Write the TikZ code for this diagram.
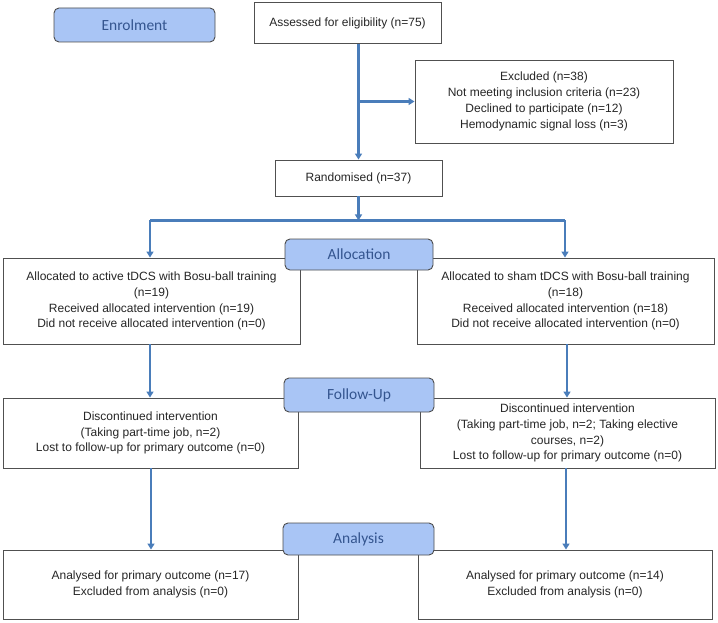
\documentclass[tikz,border=0pt]{standalone}
\usepackage{fontspec}
\setmainfont{Liberation Sans}
\newfontfamily\labelfont{Carlito}
\usetikzlibrary{arrows.meta,calc}
\definecolor{arrowblue}{HTML}{4A7DBA}
\definecolor{labelfill}{HTML}{A9C5F5}
\definecolor{labeltext}{HTML}{34558F}
\definecolor{boxline}{HTML}{505050}
\begin{document}
\begin{tikzpicture}[x=1pt,y=-1pt,
  infobox/.style={draw=boxline,line width=0.9pt,fill=white,align=center,inner sep=0pt,
    font=\fontsize{12}{15.8}\selectfont,text=black!85},
  stagelabel/.style={draw=black!70,line width=0.9pt,fill=labelfill,rounded corners=5pt,
    inner sep=0pt,font=\labelfont\fontsize{15.5}{17}\selectfont,text=labeltext},
  arr/.style={draw=arrowblue,line width=2.5pt,-{Triangle[width=7pt,length=6pt]}},
  conn/.style={draw=arrowblue,line width=2.5pt}]
\useasboundingbox (0,0) rectangle (718,623);

\node[stagelabel,minimum width=161pt,minimum height=34pt] (enrol) at (134.5,25) {Enrolment};
\node[infobox,minimum width=187pt,minimum height=41pt] (ass) at (347.5,23) {Assessed for eligibility (n=75)};
\node[infobox,minimum width=258pt,minimum height=83pt] (exc) at (544,101.5)
  {Excluded (n=38)\\Not meeting inclusion criteria (n=23)\\Declined to participate (n=12)\\Hemodynamic signal loss (n=3)};
\node[infobox,minimum width=167pt,minimum height=36pt] (rand) at (358.5,178) {Randomised (n=37)};

\node[infobox,minimum width=297pt,minimum height=86pt] (allocL) at (151.5,301)
  {Allocated to active tDCS with Bosu-ball training\\(n=19)\\Received allocated intervention (n=19)\\Did not receive allocated intervention (n=0)};
\node[infobox,minimum width=297pt,minimum height=86pt] (allocR) at (565.5,301)
  {Allocated to sham tDCS with Bosu-ball training\\(n=18)\\Received allocated intervention (n=18)\\Did not receive allocated intervention (n=0)};

\node[infobox,minimum width=295pt,minimum height=70pt] (fupL) at (150.5,433)
  {Discontinued intervention\\(Taking part-time job, n=2)\\Lost to follow-up for primary outcome (n=0)};
\node[infobox,minimum width=295pt,minimum height=70pt] (fupR) at (567.5,433)
  {Discontinued intervention\\(Taking part-time job, n=2; Taking elective\\courses, n=2)\\Lost to follow-up for primary outcome (n=0)};

\node[infobox,minimum width=295pt,minimum height=69pt] (anL) at (150.5,584.5)
  {Analysed for primary outcome (n=17)\\Excluded from analysis (n=0)};
\node[infobox,minimum width=294pt,minimum height=69pt] (anR) at (565,584.5)
  {Analysed for primary outcome (n=14)\\Excluded from analysis (n=0)};

\node[stagelabel,minimum width=148pt,minimum height=31pt] (alloc) at (359,254.5) {Allocation};
\node[stagelabel,minimum width=150pt,minimum height=34pt] (fup) at (359,395) {Follow-Up};
\node[stagelabel,minimum width=151pt,minimum height=32pt] (anal) at (358.5,539) {Analysis};

% connectors
\draw[arr] (rand.north |- ass.south) -- (rand.north);
\coordinate (b1) at (rand.north |- exc.west);
\draw[arr] (b1) -- (exc.west);
\draw[arr] (rand.south) -- ++(0,24) coordinate (b2);
\coordinate (bl) at (150,0 |- b2);
\coordinate (br) at (565,0 |- b2);
\draw[conn] (bl) -- (br);
\draw[arr] (bl) -- (bl |- allocL.north);
\draw[arr] (br) -- (br |- allocR.north);
\draw[arr] (150,0 |- allocL.south) -- (150,0 |- fupL.north);
\draw[arr] (567,0 |- allocR.south) -- (567,0 |- fupR.north);
\draw[arr] (151,0 |- fupL.south) -- (151,0 |- anL.north);
\draw[arr] (566,0 |- fupR.south) -- (566,0 |- anR.north);
\end{tikzpicture}
\end{document}
